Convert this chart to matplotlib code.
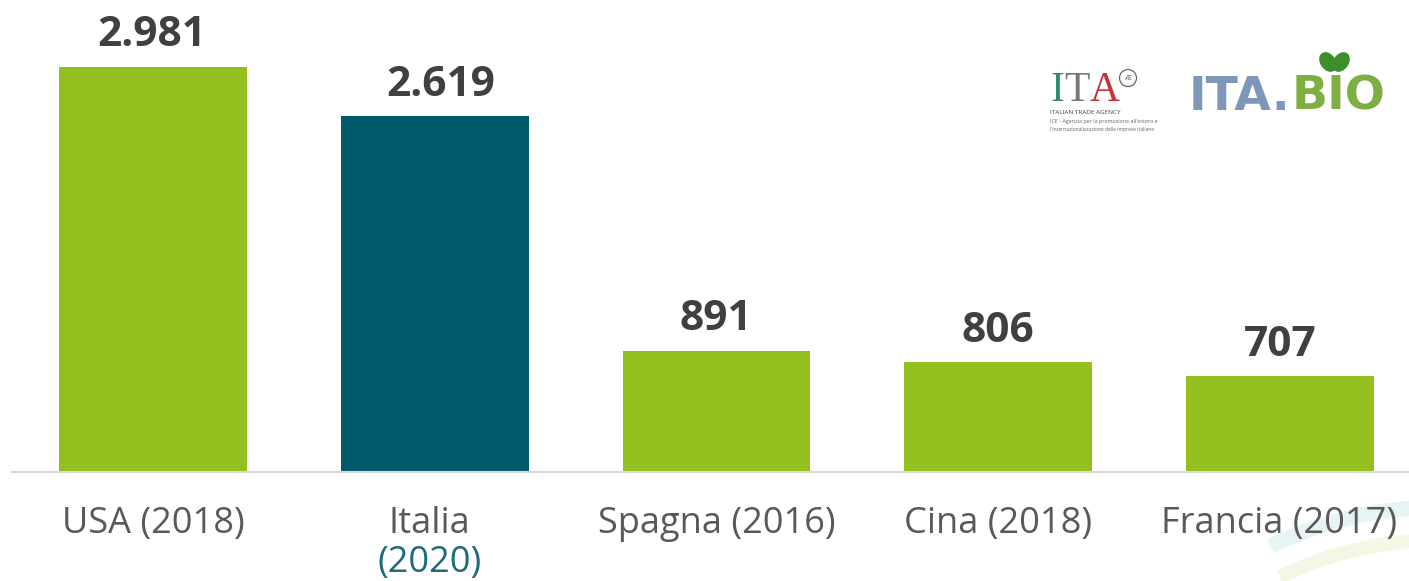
import matplotlib
matplotlib.use("Agg")
import matplotlib.pyplot as plt
from matplotlib.patches import Arc, Ellipse

categories = ["USA (2018)", "Italia", "Spagna (2016)", "Cina (2018)", "Francia (2017)"]
values = [2981, 2619, 891, 806, 707]
value_labels = ["2.981", "2.619", "891", "806", "707"]
bar_colors = ["#93C01F", "#005B6B", "#93C01F", "#93C01F", "#93C01F"]
label_dx = [0, -5, 0, 0, -1]
value_dx = [-1, 6, -1, 0, 0]
W, H = 1409, 581

plt.rcParams["font.family"] = ["Open Sans", "DejaVu Sans"]
fig = plt.figure(figsize=(W / 100, H / 100), dpi=100, facecolor="white")

# decorative background in pixel coordinates
bg = fig.add_axes([0, 0, 1, 1], zorder=0)
bg.set_xlim(0, W); bg.set_ylim(H, 0); bg.axis("off")
bg.add_patch(Arc((1440, 893), 772, 772, theta1=244, theta2=280, color="#E8F3F6", lw=11))
bg.add_patch(Arc((1440, 905), 730, 730, theta1=244, theta2=280, color="#F3F7E3", lw=10))

ax = fig.add_axes([12 / W, (H - 472) / H, (W - 12) / W, 472 / H], zorder=1)
ax.patch.set_alpha(0)
xs = list(range(len(categories)))
ax.bar(xs, values, width=0.667, color=bar_colors)
ax.set_xlim(-0.5004, 4.458)
ax.set_ylim(0, 472 / 0.1359)
ax.set_yticks([])
ax.set_xticks([])
for s in ["top", "left", "right"]:
    ax.spines[s].set_visible(False)
ax.spines["bottom"].set_color("#D9D9D9")
ax.spines["bottom"].set_linewidth(1.5)

for x, v, lab, dx in zip(xs, values, value_labels, value_dx):
    ax.annotate(lab, (x, v), xytext=(dx * 0.72, 7.5), textcoords="offset points",
                ha="center", va="bottom", fontsize=30.5, fontweight="bold", color="#404040",
                annotation_clip=False)
for x, lab, dx in zip(xs, categories, label_dx):
    ax.annotate(lab, (x, 0), xytext=(dx * 0.72, -37.5), textcoords="offset points",
                ha="center", va="center", fontsize=26, color="#595959", annotation_clip=False)
ax.annotate("(2020)", (1, 0), xytext=(-5 * 0.72, -65.5), textcoords="offset points",
            ha="center", va="center", fontsize=26, color="#1F6B7A", annotation_clip=False)

# logos
top = fig.add_axes([0, 0, 1, 1], zorder=2)
top.set_xlim(0, W); top.set_ylim(H, 0); top.axis("off")
serif = "Liberation Serif"
top.text(1050, 101, "I", color="#2E8B6B", family=serif, fontsize=30, va="baseline")
top.text(1064, 101, "T", color="#777777", family=serif, fontsize=30, va="baseline")
top.text(1090, 101, "A", color="#C8323C", family=serif, fontsize=30, va="baseline")
top.add_patch(Ellipse((1128, 78), 17, 17, fill=False, ec="#666666", lw=0.9))
top.text(1128, 78, "Æ", color="#666666", fontsize=6, ha="center", va="center")
top.text(1050, 112, "ITALIAN TRADE AGENCY", fontsize=4.6, color="#444444", va="center")
top.text(1050, 122, "ICE - Agenzia per la promozione all'estero e", fontsize=3.9, color="#666666", va="center")
top.text(1050, 130, "l'internazionalizzazione delle imprese italiane", fontsize=3.6, color="#666666", va="center")
top.text(1189, 110, "ITA.", color="#7D97B8", fontsize=34, fontweight="bold", family="DejaVu Sans", va="baseline")
top.text(1292, 110, "BIO", color="#7FAE42", fontsize=34, fontweight="bold", family="DejaVu Sans", va="baseline")
top.add_patch(Ellipse((1328, 62), 14, 20, angle=-35, color="#3E8E2A"))
top.add_patch(Ellipse((1341, 62), 14, 20, angle=35, color="#3E8E2A"))

fig.savefig("out.png", dpi=100)
